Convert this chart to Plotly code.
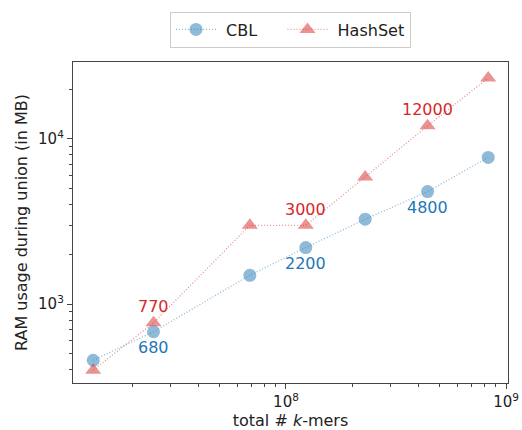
import numpy as np
import plotly.graph_objects as go

# Data
kmers = [1.33e7, 2.5e7, 6.85e7, 1.23e8, 2.29e8, 4.4e8, 8.3e8]
cbl_ram = [457, 680, 1494, 2200, 3265, 4800, 7730]
hashset_ram = [398, 770, 3000, 3000, 5890, 12000, 23400]
label_idx = [1, 3, 5]
cbl_labels = ["680", "2200", "4800"]
hash_labels = ["770", "3000", "12000"]

BLUE = "#1f77b4"
RED = "#d62728"
FONT = "DejaVu Sans"
NB = "\u00a0"

fig = go.Figure()
fig.add_trace(go.Scatter(
    x=kmers, y=cbl_ram, name=NB + "CBL" + NB * 4, mode="lines+markers",
    line=dict(color="rgba(31,119,180,0.5)", dash="1px,2px", width=1.3),
    marker=dict(symbol="circle", size=13, color="rgba(31,119,180,0.5)"),
))
fig.add_trace(go.Scatter(
    x=kmers, y=hashset_ram, name=NB + "HashSet", mode="lines+markers",
    line=dict(color="rgba(214,39,40,0.5)", dash="1px,2px", width=1.3),
    marker=dict(symbol="triangle-up", size=14, color="rgba(214,39,40,0.5)"),
))

for i, t in zip(label_idx, hash_labels):
    fig.add_annotation(x=np.log10(kmers[i]), y=np.log10(hashset_ram[i]), text=t,
                       showarrow=False, yshift=16, font=dict(color=RED, size=16, family=FONT))
for i, t in zip(label_idx, cbl_labels):
    fig.add_annotation(x=np.log10(kmers[i]), y=np.log10(cbl_ram[i]), text=t,
                       showarrow=False, yshift=-16, font=dict(color=BLUE, size=16, family=FONT))

def minor_vals(lo, hi):
    out = []
    for d in range(lo, hi + 1):
        for m in range(2, 10):
            out.append(m * 10 ** d)
    return out

axis_common = dict(
    type="log", showgrid=False, zeroline=False, automargin=False,
    showline=True, mirror=True, linecolor="#444", linewidth=1.3,
    ticks="outside", ticklen=5, tickwidth=1.2, tickcolor="#444",
    tickfont=dict(size=15, family=FONT, color="#222"),
)

fig.update_xaxes(**axis_common, range=[7.032, 9.009],
                 tickvals=[1e8, 1e9], ticktext=["10<sup>8</sup>", "10<sup>9</sup>"],
                 minor=dict(ticks="outside", ticklen=3, tickcolor="#444", tickvals=minor_vals(7, 8)),
                 title=dict(text="total # <i>k</i>-mers", font=dict(size=16, family=FONT, color="#222"), standoff=4))
fig.update_yaxes(**axis_common, range=[2.522, 4.466],
                 tickvals=[1e3, 1e4], ticktext=["10<sup>3</sup>", "10<sup>4</sup>"],
                 minor=dict(ticks="outside", ticklen=3, tickcolor="#444", tickvals=minor_vals(2, 4)),
                 title=dict(text="RAM usage during union (in MB)", font=dict(size=16, family=FONT, color="#222"), standoff=6))

fig.update_layout(
    width=522, height=430,
    margin=dict(l=73, r=14, t=59, b=47),
    paper_bgcolor="white", plot_bgcolor="white",
    font=dict(family=FONT, color="#222"),
    showlegend=True,
    legend=dict(orientation="h", x=0.5, xanchor="center", y=1.045, yanchor="bottom",
                bordercolor="#ccc", borderwidth=1, font=dict(size=16, family=FONT),
                itemwidth=40),
)

fig.write_html("out.html")
